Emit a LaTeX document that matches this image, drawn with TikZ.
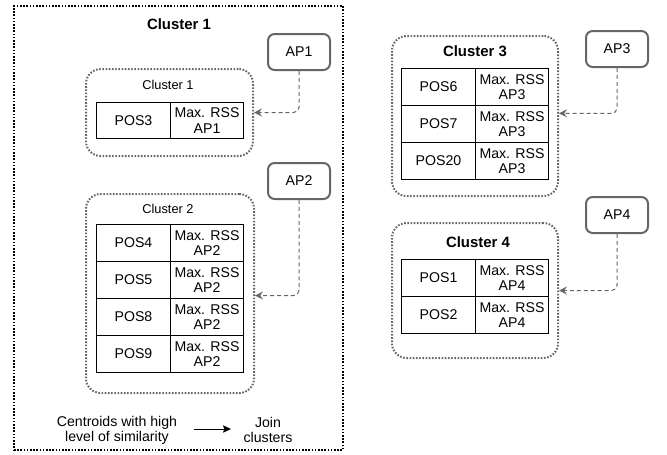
\documentclass[tikz,border=0pt]{standalone}
\usepackage{fontspec}
\setmainfont{Liberation Sans}
\usetikzlibrary{arrows.meta}
\definecolor{dgray}{HTML}{666666}
\begin{document}
\begin{tikzpicture}[x=0.75pt,y=-0.75pt,
  txt/.style={font=\fontsize{10.6}{11.6}\selectfont, align=center},
  title/.style={font=\fontsize{11.2}{13}\selectfont\bfseries},
  small/.style={font=\fontsize{9.6}{11}\selectfont},
  cell/.style={draw=black, line width=0.75pt, inner sep=0pt, anchor=north west, minimum height=37*0.75pt, txt},
  lcell/.style={cell, minimum width=74*0.75pt},
  rcell/.style={cell, minimum width=73*0.75pt},
  cbox/.style={draw=dgray, line width=1.5pt, dash pattern=on 1.2pt off 1.2pt, rounded corners=11pt, inner sep=0pt, anchor=north west},
  apbox/.style={draw=dgray, line width=1.5pt, rounded corners=5pt, inner sep=0pt, anchor=north west, minimum width=62*0.75pt, minimum height=36*0.75pt, txt},
  aparrow/.style={draw=dgray, line width=0.75pt, dash pattern=on 3pt off 2.2pt, rounded corners=4pt, -{Stealth[length=6pt,width=6pt,inset=2.2pt]}},
]
\useasboundingbox (0,0) rectangle (667,454);
% outer cluster
\node[draw=black, line width=1.5pt, dash pattern=on 1.2pt off 1.2pt, inner sep=0pt, anchor=north west, minimum width=329*0.75pt, minimum height=444*0.75pt] (outer) at (13,5) {};
\node[title] (t1) at (179,24) {Cluster 1};

% Cluster 1 inner
\node[cbox, minimum width=167*0.75pt, minimum height=87*0.75pt] (c1) at (85,68) {};
\node[small] (c1t) at (168,85) {Cluster 1};
\node[lcell, minimum height=36*0.75pt] (p3) at (96,102) {POS3};
\node[rcell, minimum height=36*0.75pt] (r3) at (170,102) {Max. RSS\\AP1};

% Cluster 2
\node[cbox, minimum width=168*0.75pt, minimum height=199*0.75pt] (c2) at (85,193) {};
\node[small] (c2t) at (168,209) {Cluster 2};
\node[lcell] (p4) at (96,224) {POS4};
\node[rcell] (r4) at (170,224) {Max. RSS\\AP2};
\node[lcell] (p5) at (96,261) {POS5};
\node[rcell] (r5) at (170,261) {Max. RSS\\AP2};
\node[lcell] (p8) at (96,298) {POS8};
\node[rcell] (r8) at (170,298) {Max. RSS\\AP2};
\node[lcell] (p9) at (96,335) {POS9};
\node[rcell] (r9) at (170,335) {Max. RSS\\AP2};

% AP1, AP2
\node[apbox] (ap1) at (267,33) {AP1};
\node[apbox] (ap2) at (267,162) {AP2};
\draw[aparrow] (ap1.south) |- (c1.east);
\draw[aparrow] (ap2.south) |- ([yshift=-1.5]c2.east);

% bottom text
\node[txt, font=\fontsize{10.6}{11.4}\selectfont] (cent) at (117,430) {Centroids with high\\level of similarity};
\node[txt, font=\fontsize{10.6}{11.4}\selectfont] (join) at (268,430) {Join\\clusters};
\draw[line width=0.75pt, -{Stealth[length=6pt,width=5.5pt,inset=1pt]}] (194,429) coordinate (a0) -- (231,429) coordinate (a1);

% Cluster 3
\node[cbox, minimum width=166*0.75pt, minimum height=160*0.75pt] (c3) at (391,35) {};
\node[title] (t3) at (475,51) {Cluster 3};
\node[lcell] (p6) at (401,68) {POS6};
\node[rcell] (r6) at (475,68) {Max. RSS\\AP3};
\node[lcell] (p7) at (401,105) {POS7};
\node[rcell] (r7) at (475,105) {Max. RSS\\AP3};
\node[lcell] (p20) at (401,142) {POS20};
\node[rcell] (r20) at (475,142) {Max. RSS\\AP3};
\node[apbox] (ap3) at (585,30) {AP3};
\draw[aparrow] (ap3.south) |- ([yshift=2]c3.east);

% Cluster 4
\node[cbox, minimum width=166*0.75pt, minimum height=135*0.75pt] (c4) at (391,222) {};
\node[title] (t4) at (478,242) {Cluster 4};
\node[lcell] (p1) at (401,259) {POS1};
\node[rcell] (r1) at (475,259) {Max. RSS\\AP4};
\node[lcell] (p2) at (401,296) {POS2};
\node[rcell] (r2) at (475,296) {Max. RSS\\AP4};
\node[apbox] (ap4) at (585,196) {AP4};
\draw[aparrow] (ap4.south) |- (c4.east);
\end{tikzpicture}
\end{document}
